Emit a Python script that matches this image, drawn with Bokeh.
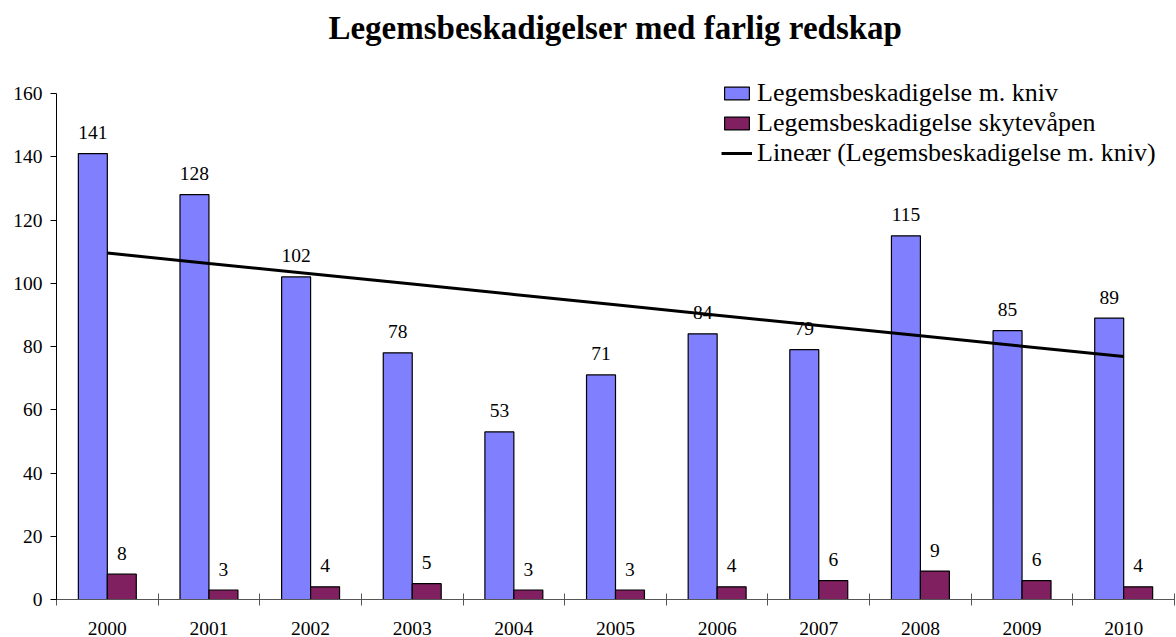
import numpy as np
from bokeh.plotting import figure
from bokeh.models import Range1d, FixedTicker, ColumnDataSource, Legend, LegendItem, Title
from bokeh.core.properties import value
from bokeh.embed import file_html
from bokeh.resources import INLINE

years = ["2000", "2001", "2002", "2003", "2004", "2005", "2006", "2007", "2008", "2009", "2010"]
kniv = [141, 128, 102, 78, 53, 71, 84, 79, 115, 85, 89]
skyte = [8, 3, 4, 5, 3, 3, 4, 6, 9, 6, 4]
y_ticks = [0, 20, 40, 60, 80, 100, 120, 140, 160]

FONT = "Liberation Serif"
BLUE = "#8080FF"
PURPLE = "#802060"

# layout: frame extends above the 160 tick so the legend is not clipped
H, TOP, BOTTOM = 637, 73, 38
axis_px = 506
y_end = y_ticks[-1] * (H - TOP - BOTTOM) / axis_px

idx = np.arange(len(years))
bw = 0.285
src = ColumnDataSource(dict(
    xk=idx - bw / 2, xs=idx + bw / 2,
    kniv=kniv, skyte=skyte,
    kl=[str(v) for v in kniv], sl=[str(v) for v in skyte],
))

p = figure(width=1176, height=H, output_backend="svg", toolbar_location=None,
           x_range=Range1d(-0.5, len(years) - 0.5), y_range=Range1d(0, y_end),
           min_border_left=56, min_border_right=2, min_border_bottom=BOTTOM, min_border_top=TOP)
p.title = Title(text="Legemsbeskadigelser med farlig redskap", align="center",
                text_font=FONT, text_font_size="33px", text_font_style="bold",
                text_color="black", standoff=0, vertical_align="bottom",
                padding=dict(left=0, right=0, top=0, bottom=28))
p.outline_line_color = None
p.xgrid.visible = False
p.ygrid.visible = False

rk = p.vbar(x="xk", top="kniv", width=bw, source=src, fill_color=BLUE, line_color="black", line_width=1.2)
rs = p.vbar(x="xs", top="skyte", width=bw, source=src, fill_color=PURPLE, line_color="black", line_width=1.2)

coef = np.polyfit(idx, np.array(kniv, dtype=float), 1)
trend = np.polyval(coef, idx)
rt = p.line(idx, trend, line_color="black", line_width=3)

p.text(x="xk", y="kniv", text="kl", source=src, text_font=value(FONT), text_font_size="19.5px",
       text_align="center", text_baseline="alphabetic", y_offset=-21, text_color="black")
p.text(x="xs", y="skyte", text="sl", source=src, text_font=value(FONT), text_font_size="19.5px",
       text_align="center", text_baseline="alphabetic", y_offset=-21, text_color="black")

xa = p.xaxis[0]
xa.ticker = FixedTicker(ticks=list(idx), minor_ticks=[i - 0.5 for i in range(len(years) + 1)])
xa.major_label_overrides = {int(i): y for i, y in zip(idx, years)}
xa.major_tick_line_color = None
xa.major_tick_in = 0
xa.major_tick_out = 0
xa.minor_tick_in = 6
xa.minor_tick_out = 6
xa.minor_tick_line_color = "#555555"
xa.axis_line_color = "#555555"
xa.major_label_standoff = 16
xa.major_label_text_font = FONT
xa.major_label_text_font_size = "19.5px"
xa.major_label_text_color = "black"

ya = p.yaxis[0]
ya.ticker = FixedTicker(ticks=y_ticks, minor_ticks=[])
ya.bounds = (y_ticks[0], y_ticks[-1])
ya.major_tick_in = 0
ya.major_tick_out = 6
ya.major_tick_line_color = "black"
ya.axis_line_color = "black"
ya.major_label_standoff = 8
ya.major_label_text_font = FONT
ya.major_label_text_font_size = "19.5px"
ya.major_label_text_color = "black"

legend = Legend(items=[
    LegendItem(label="Legemsbeskadigelse m. kniv", renderers=[rk]),
    LegendItem(label="Legemsbeskadigelse skytevåpen", renderers=[rs]),
    LegendItem(label="Lineær (Legemsbeskadigelse m. kniv)", renderers=[rt]),
], location=(665, 431), orientation="vertical",
    label_text_font=FONT, label_text_font_size="26px", label_text_color="black",
    label_text_line_height=1.0,
    glyph_width=31, glyph_height=16, label_height=28, label_standoff=5, spacing=0,
    padding=0, margin=0, border_line_color=None, background_fill_alpha=0)
p.add_layout(legend, "center")

open("out.html", "w").write(file_html(p, INLINE))
